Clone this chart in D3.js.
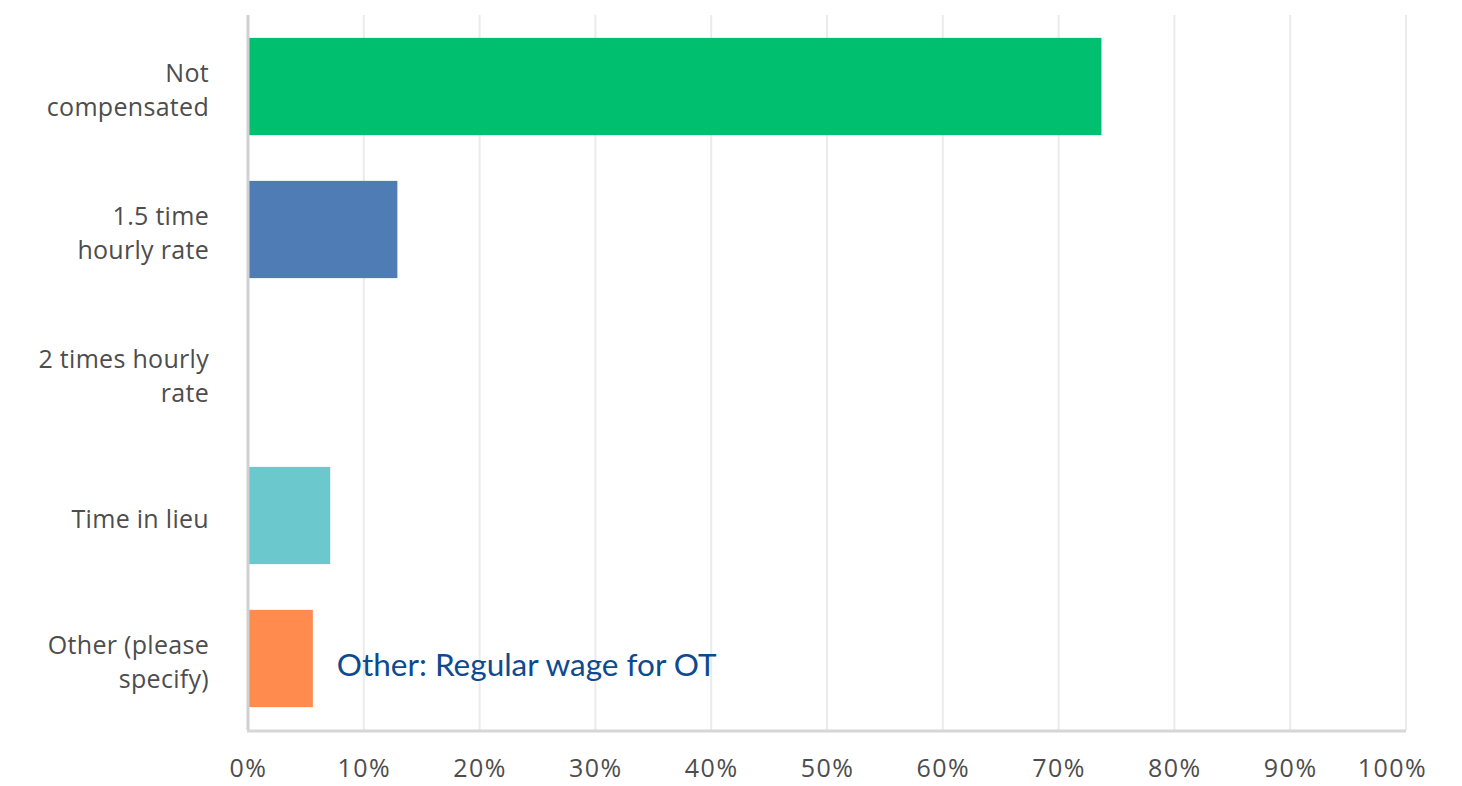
<!DOCTYPE html>
<html>
<head>
<meta charset="UTF-8">
<title>Overtime compensation</title>
<style>
body { margin: 0; background: #fff; }
.grid line { stroke: #ebebeb; stroke-width: 2px; }
.xlabel, .ylabel { font-family: "Open Sans", sans-serif; fill: #4d4d4d; }
.xlabel { letter-spacing: 1.5px; }
.ylabel { letter-spacing: 0.3px; }
.note { font-family: Lato, sans-serif; fill: #0d4a8f; }
</style>
</head>
<body>
<svg></svg>
<script src="https://d3js.org/d3.v7.min.js"></script>
<script>

var categories = [
  ["Not", "compensated"],
  ["1.5 time", "hourly rate"],
  ["2 times hourly", "rate"],
  ["Time in lieu"],
  ["Other (please", "specify)"]
];
var values = [73.7, 12.9, 0, 7.1, 5.6];
var colors = ["#00bf6f", "#507cb6", "#9b7bb8", "#6bc8cd", "#ff8b4f"];
var ticks = [0, 10, 20, 30, 40, 50, 60, 70, 80, 90, 100];
var note = "Other: Regular wage for OT";

var W = 1462, H = 786;
var margin = { top: 15, right: 56, bottom: 56, left: 248 };
var width = W - margin.left - margin.right;
var height = H - margin.top - margin.bottom;

var svg = d3.select('svg')
  .attr('width', W)
  .attr('height', H)
  .append('g')
  .attr('transform', 'translate(' + margin.left + ',' + margin.top + ')');

var x = d3.scaleLinear().domain([0, 100]).range([0, width]);
var y = d3.scaleBand()
  .domain(d3.range(categories.length))
  .range([0, height])
  .paddingInner(0.32)
  .paddingOuter(0.16);

// vertical grid
svg.append('g')
  .attr('class', 'grid')
  .selectAll('line')
  .data(ticks.slice(1))
  .enter().append('line')
  .attr('x1', function (d) { return x(d); })
  .attr('x2', function (d) { return x(d); })
  .attr('y1', 0)
  .attr('y2', height);

// bars
svg.append('g')
  .selectAll('rect')
  .data(values)
  .enter().append('rect')
  .attr('x', x(0))
  .attr('y', function (d, i) { return y(i); })
  .attr('width', function (d) { return x(d) - x(0); })
  .attr('height', y.bandwidth())
  .attr('fill', function (d, i) { return colors[i]; });

// axis lines
svg.append('line')
  .attr('x1', 0).attr('x2', 0)
  .attr('y1', 0).attr('y2', height)
  .attr('stroke', '#d0d0d0').attr('stroke-width', 3);
svg.append('line')
  .attr('x1', -1).attr('x2', width)
  .attr('y1', height + 1).attr('y2', height + 1)
  .attr('stroke', '#d6d6d6').attr('stroke-width', 3);

// x tick labels
var xAxis = d3.axisBottom(x)
  .tickValues(ticks)
  .tickFormat(function (d) { return d + '%'; })
  .tickSize(0)
  .tickPadding(29);
var gx = svg.append('g')
  .attr('transform', 'translate(0,' + height + ')')
  .call(xAxis);
gx.select('.domain').remove();
gx.selectAll('text')
  .attr('class', 'xlabel')
  .attr('font-size', 25)
  .attr('fill', null);
// last label is pulled in so it stays inside the frame
gx.selectAll('text')
  .filter(function (d) { return d === 100; })
  .attr('dx', -14);

// category labels
var lineH = 34;
var lab = svg.append('g')
  .selectAll('text')
  .data(categories)
  .enter().append('text')
  .attr('class', 'ylabel')
  .attr('font-size', 25)
  .attr('text-anchor', 'end')
  .attr('x', -39)
  .attr('y', function (d, i) {
    return y(i) + y.bandwidth() / 2 - (d.length - 1) * lineH / 2 + 12;
  });
lab.selectAll('tspan')
  .data(function (d) { return d; })
  .enter().append('tspan')
  .attr('x', -39)
  .attr('dy', function (d, j) { return j === 0 ? 0 : lineH; })
  .text(function (d) { return d; });

// annotation
svg.append('text')
  .attr('class', 'note')
  .attr('font-size', 31.5)
  .attr('x', x(values[4]) + 24)
  .attr('y', y(4) + y.bandwidth() / 2 + 17)
  .text(note);

</script>
</body>
</html>
